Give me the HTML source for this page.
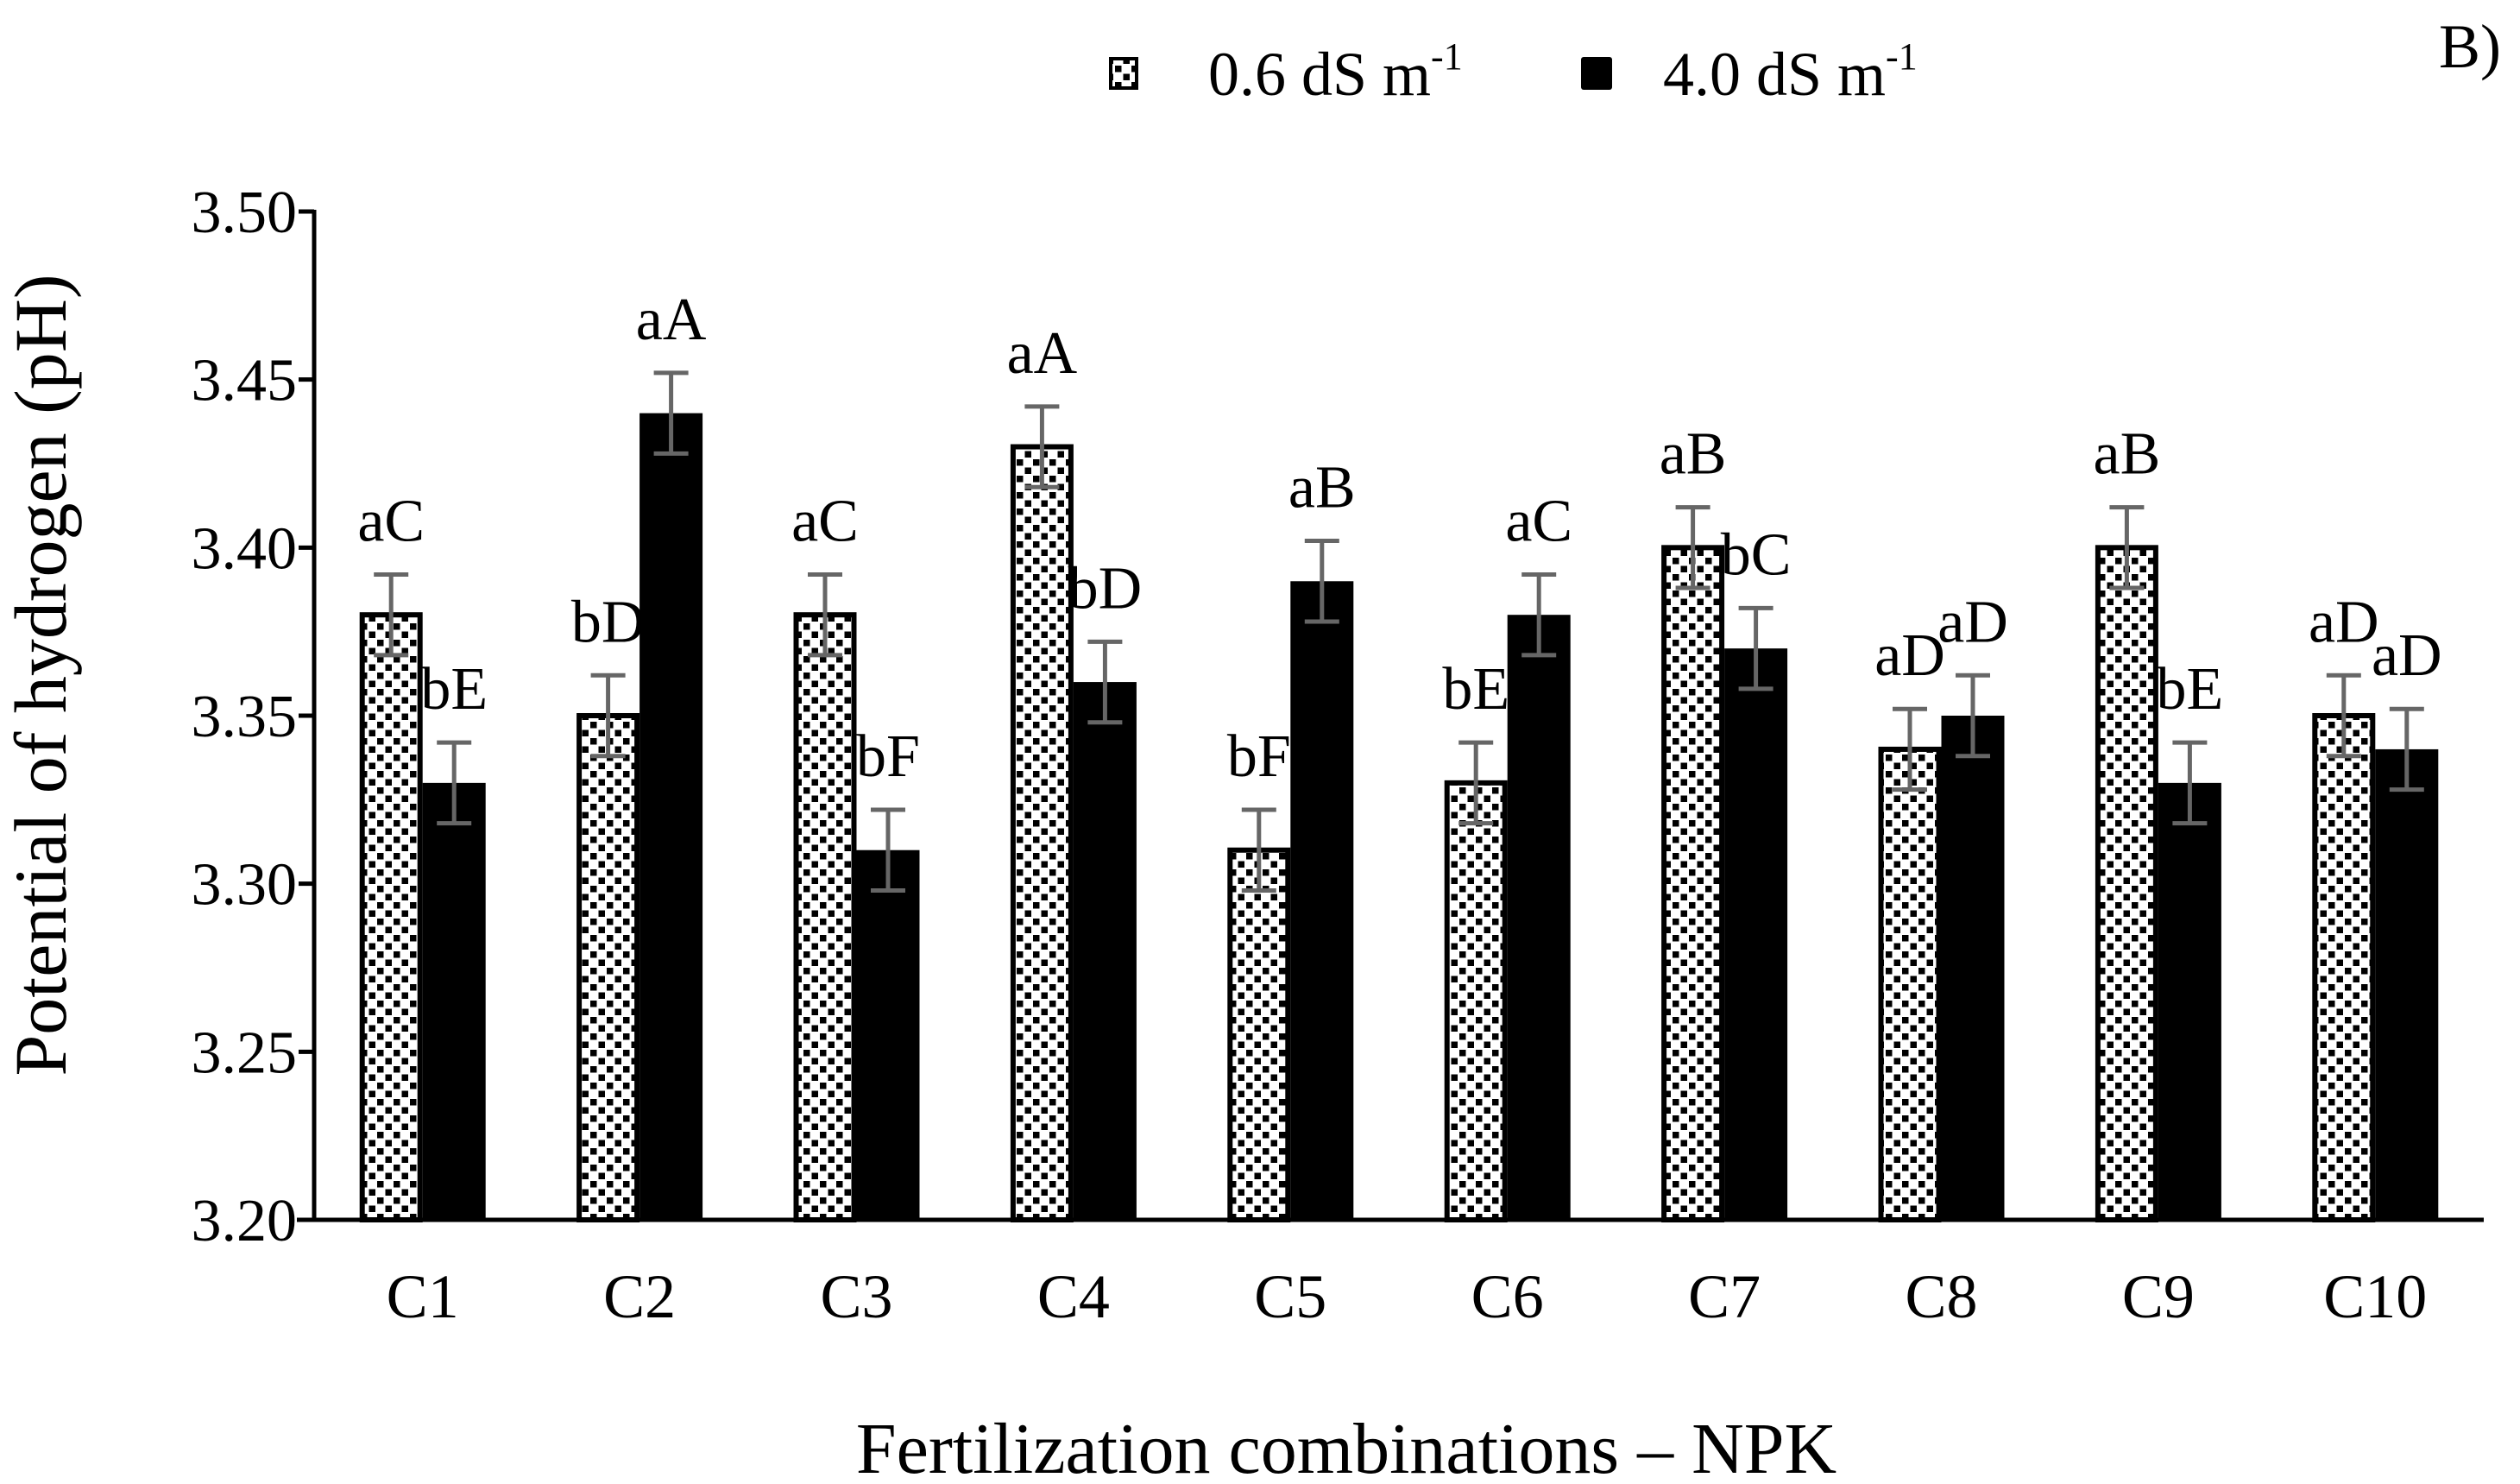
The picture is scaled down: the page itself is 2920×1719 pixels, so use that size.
<!DOCTYPE html>
<html><head><meta charset="utf-8"><style>
html,body{margin:0;padding:0;background:#fff;}
svg{display:block;font-family:"Liberation Serif",serif;}
</style></head><body>
<svg id="chart" width="2920" height="1719" viewBox="0 0 2920 1719" xmlns="http://www.w3.org/2000/svg">
<defs>
<pattern id="chk" patternUnits="userSpaceOnUse" width="19" height="19">
<rect width="19" height="19" fill="#fff"/>
<rect x="0" y="0" width="7.5" height="7.5" fill="#000"/>
<rect x="9.5" y="9.5" width="7.5" height="7.5" fill="#000"/>
</pattern>
</defs>
<g id="plot"></g>
<text x="1560" y="1706" font-size="84" text-anchor="middle">Fertilization combinations – NPK</text>
<text transform="translate(76,782) rotate(-90)" font-size="86" text-anchor="middle">Potential of hydrogen (pH)</text>
<g>
<rect x="1287" y="68" width="30" height="34" fill="url(#chk)" stroke="#000" stroke-width="4"/>
<text x="1400" y="110" font-size="72">0.6 dS m<tspan font-size="44" dy="-30">-1</tspan></text>
<rect x="1832" y="66" width="36" height="38" fill="#000" rx="3"/>
<text x="1927" y="110" font-size="72">4.0 dS m<tspan font-size="44" dy="-30">-1</tspan></text>
</g>
<text x="2826" y="78" font-size="72">B)</text>
</svg>
<script>
const categories = ["C1","C2","C3","C4","C5","C6","C7","C8","C9","C10"];
const valuesLow = [3.38,3.35,3.38,3.43,3.31,3.33,3.40,3.34,3.40,3.35];
const valuesHigh = [3.33,3.44,3.31,3.36,3.39,3.38,3.37,3.35,3.33,3.34];
const errLow = [0.012,0.012,0.012,0.012,0.012,0.012,0.012,0.012,0.012,0.012];
const errHigh = [0.012,0.012,0.012,0.012,0.012,0.012,0.012,0.012,0.012,0.012];
const lettersLow = ["aC","bD","aC","aA","bF","bE","aB","aD","aB","aD"];
const lettersHigh = ["bE","aA","bF","bD","aB","aC","bC","aD","bE","aD"];
const yTicks = [3.20,3.25,3.30,3.35,3.40,3.45,3.50];

const X0=364, X1=2878, Y0=1413, Y1=245, YMIN=3.20, YMAX=3.50;
const band=(X1-X0)/categories.length, BW=73;
const y=v=>Y0-(v-YMIN)/(YMAX-YMIN)*(Y0-Y1);
const xc=i=>X0+band*(i+0.5);
const NS="http://www.w3.org/2000/svg";
const g=document.getElementById('plot');
function mk(tag,attrs,parent){const e=document.createElementNS(NS,tag);for(const k in attrs)e.setAttribute(k,attrs[k]);(parent||g).appendChild(e);return e;}

yTicks.forEach(t=>{
  const tk=mk('line',{x1:X0-18,x2:X0,y1:y(t),y2:y(t),stroke:'#000','stroke-width':5});
  
  
  const tl=mk('text',{x:X0-20,y:y(t)+24,'font-size':70,'text-anchor':'end'});
  tl.textContent=t.toFixed(2);
  
  
});

function bar(i,v,e,letter,series){
  const left = series===0 ? xc(i)-BW : xc(i);
  const r=mk('rect',{x:left+(series===0?3:0),y:y(v),width:series===0?BW-6:BW,height:Y0-y(v),
    fill:series===0?'url(#chk)':'#000',stroke:series===0?'#000':'none','stroke-width':6});
  
  
  const cx=left+BW/2;
  const eb=mk('path',{d:`M${cx-20},${y(v+e)}H${cx+20}M${cx},${y(v+e)}V${y(v-e)}M${cx-20},${y(v-e)}H${cx+20}`,stroke:'#666','stroke-width':5,fill:'none'});
  
  
  const t=mk('text',{x:cx,y:y(v+e)-39,'font-size':70,'text-anchor':'middle'});
  t.textContent=letter;
  
  
}
categories.forEach((c,i)=>{
  bar(i,valuesLow[i],errLow[i],lettersLow[i],0);
  bar(i,valuesHigh[i],errHigh[i],lettersHigh[i],1);
  const l=mk('text',{x:xc(i),y:1526,'font-size':72,'text-anchor':'middle'});
  l.textContent=c;
  
  
});
const ya=mk('line',{x1:X0,x2:X0,y1:Y1-2,y2:Y0,stroke:'#000','stroke-width':5});


const xa=mk('line',{x1:X0-20,x2:X1,y1:Y0,y2:Y0,stroke:'#000','stroke-width':5});


</script>
</body></html>
